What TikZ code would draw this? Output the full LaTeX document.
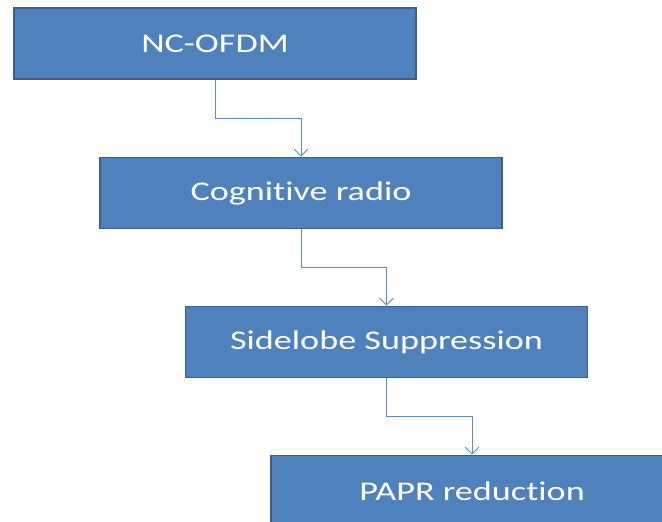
\documentclass[tikz,border=0pt]{standalone}
\usepackage{fontspec}
\setmainfont{Carlito}[Ligatures=NoCommon]
\usetikzlibrary{arrows.meta,calc}
\definecolor{boxfill}{HTML}{4F81BD}
\definecolor{boxline}{HTML}{3A5F8C}
\definecolor{linkcol}{HTML}{5B8BC6}
\tikzset{
  flowbox/.style={draw=boxline, fill=boxfill, line width=1.6pt,
    minimum width=402pt, minimum height=71pt, inner sep=0pt,
    text=white, font=\fontsize{27}{30}\selectfont},
  link/.style={draw=linkcol, line width=0.9pt,
    -{Straight Barb[length=7pt,width=14pt,line width=0.9pt]}}
}
\newcommand{\wide}[1]{\scalebox{1.34}[1]{#1}}
\begin{document}
\begin{tikzpicture}[x=1pt,y=-1pt]
\useasboundingbox (0,0) rectangle (662,522);
\clip (0,0) rectangle (662,522);
\node[flowbox] (b1) at (215,43.5) {\wide{NC-OFDM}};
\node[flowbox] (b2) at (301,193) {\wide{Cognitive radio}};
\node[flowbox] (b3) at (386.5,342) {\wide{Sidelobe Suppression}};
\node[flowbox] (b4) at (472,491) {\wide{PAPR reduction}};
\draw[link] (b1.south) |- ($(b1.south)!0.5!(b2.north)$) -| (b2.north);
\draw[link] (b2.south) |- ($(b2.south)!0.5!(b3.north)$) -| (b3.north);
\draw[link] (b3.south) |- ($(b3.south)!0.5!(b4.north)$) -| (b4.north);
\end{tikzpicture}
\end{document}
